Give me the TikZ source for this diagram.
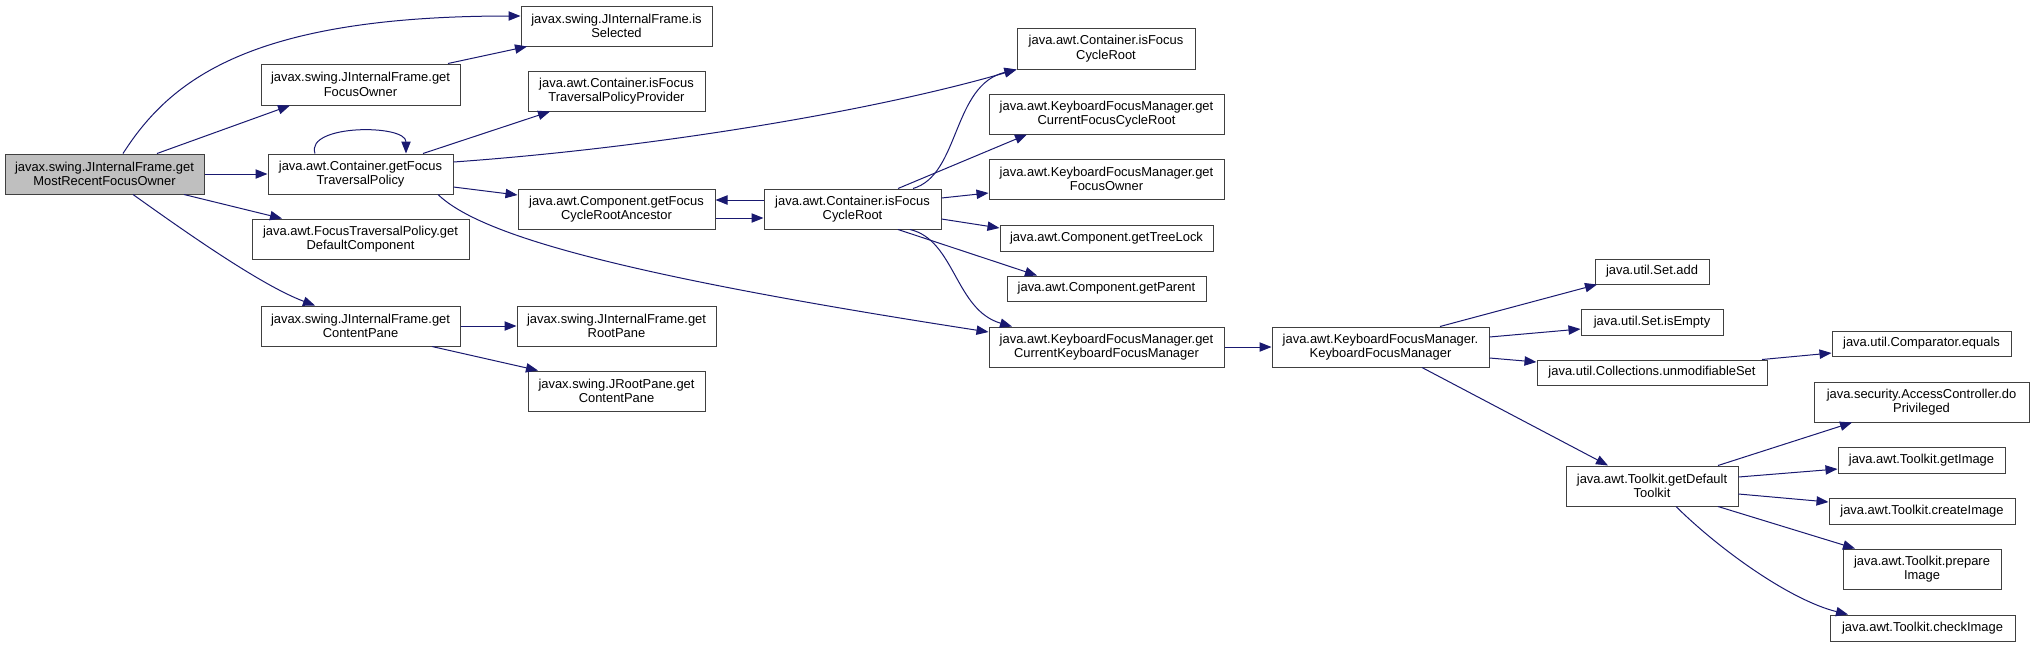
\documentclass[tikz,border=0pt]{standalone}
\usepackage{fontspec}
\setmainfont{Liberation Sans}
\usetikzlibrary{arrows.meta}
\definecolor{edgeblue}{HTML}{191970}
\definecolor{boxline}{HTML}{404040}
\definecolor{mainfill}{HTML}{BFBFBF}
\tikzset{
  box/.style={draw=boxline, line width=0.75pt, fill=white, inner sep=0pt,
    align=center, font=\fontsize{9.7}{11}\selectfont, text=black},
  edge/.style={draw=edgeblue, line width=0.75pt, -{Triangle[length=9pt,width=7pt]}}
}
\newcommand\bx[7][]{\node[box,#1,minimum width={(#5-#3)*0.75pt},minimum height={(#6-#4)*0.75pt}] (#2) at ({(#3+#5)/2},{(#4+#6)/2}) {#7};}
\begin{document}
\begin{tikzpicture}[x=0.75pt,y=-0.75pt]
\fill[white] (0,0) rectangle (2035,647);
\useasboundingbox (0,0) rectangle (2035,647);
% nodes
\bx[fill=mainfill]{M}{5}{154}{204}{194}{javax.swing.JInternalFrame.get\\MostRecentFocusOwner}
\bx{FO}{261}{64}{460}{105}{javax.swing.JInternalFrame.get\\FocusOwner}
\bx{FTP}{268}{154}{453}{194}{java.awt.Container.getFocus\\TraversalPolicy}
\bx{DC}{252}{219}{469}{259}{java.awt.FocusTraversalPolicy.get\\DefaultComponent}
\bx{CP}{261}{306}{460}{346}{javax.swing.JInternalFrame.get\\ContentPane}
\bx{SEL}{521}{6}{712}{46}{javax.swing.JInternalFrame.is\\Selected}
\bx{TPP}{528}{71}{705}{111}{java.awt.Container.isFocus\\TraversalPolicyProvider}
\bx{CRA}{518}{189}{715}{229}{java.awt.Component.getFocus\\CycleRootAncestor}
\bx{CFRB}{764}{189}{941}{229}{java.awt.Container.isFocus\\CycleRoot}
\bx{RP}{517}{306}{716}{346}{javax.swing.JInternalFrame.get\\RootPane}
\bx{JRP}{528}{371}{705}{411}{javax.swing.JRootPane.get\\ContentPane}
\bx{CFRA}{1017}{28}{1195}{69}{java.awt.Container.isFocus\\CycleRoot}
\bx{GCFR}{989}{94}{1224}{134}{java.awt.KeyboardFocusManager.get\\CurrentFocusCycleRoot}
\bx{KFO}{989}{159}{1224}{199}{java.awt.KeyboardFocusManager.get\\FocusOwner}
\bx{TL}{1000}{225}{1213}{251}{java.awt.Component.getTreeLock}
\bx{PAR}{1007}{276}{1206}{301}{java.awt.Component.getParent}
\bx{GCK}{989}{327}{1224}{367}{java.awt.KeyboardFocusManager.get\\CurrentKeyboardFocusManager}
\bx{KFM}{1272}{327}{1489}{367}{java.awt.KeyboardFocusManager.\\KeyboardFocusManager}
\bx{SADD}{1595}{259}{1709}{284}{java.util.Set.add}
\bx{SEMP}{1581}{309}{1723}{335}{java.util.Set.isEmpty}
\bx{UNM}{1537}{360}{1767}{385}{java.util.Collections.unmodifiableSet}
\bx{CMP}{1832}{331}{2011}{356}{java.util.Comparator.equals}
\bx{ACC}{1814}{382}{2029}{422}{java.security.AccessController.do\\Privileged}
\bx{GDT}{1566}{466}{1738}{506}{java.awt.Toolkit.getDefault\\Toolkit}
\bx{GI}{1838}{447}{2005}{473}{java.awt.Toolkit.getImage}
\bx{CI}{1829}{498}{2015}{524}{java.awt.Toolkit.createImage}
\bx{PI}{1843}{549}{2001}{589}{java.awt.Toolkit.prepare\\Image}
\bx{CHK}{1830}{615}{2015}{641}{java.awt.Toolkit.checkImage}
% edges
\draw[edge] (M.north -| 123,0) .. controls (170,80) and (250,16) .. (SEL.west |- 0,16);
\draw[edge] (M.north -| 157,0) -- (FO.south -| 290,0);
\draw[edge] (M.east |- 0,174) -- (FTP.west |- 0,174);
\draw[edge] (M.south -| 184,0) -- (DC.north -| 282,0);
\draw[edge] (M.south -| 133,0) .. controls (180,228) and (260,285) .. (CP.north -| 315,0);
\draw[edge] (FO.north -| 448,0) -- (SEL.south -| 527,0);
\draw[edge] (FTP.north -| 315,0) .. controls (305,124) and (406,124) .. (FTP.north -| 406,0);
\draw[edge] (FTP.north -| 423,0) -- (TPP.south -| 550,0);
\draw[edge] (FTP.east |- 0,162) .. controls (650,148) and (870,112) .. (CFRA.south west);
\draw[edge] (FTP.east |- 0,187) -- (CRA.west |- 0,195);
\draw[edge] (FTP.south -| 438,0) .. controls (480,235) and (620,275) .. (GCK.west |- 0,332);
\draw[edge] (CP.east |- 0,326) -- (RP.west |- 0,326);
\draw[edge] (CP.south -| 432,0) -- (JRP.north -| 538,0);
\draw[edge] (CFRB.west |- 0,200) -- (CRA.east |- 0,200);
\draw[edge] (CRA.east |- 0,218) -- (CFRB.west |- 0,218);
\draw[edge] (CFRB.north -| 913,0) .. controls (960,175) and (952,85) .. (CFRA.south west);
\draw[edge] (CFRB.north -| 898,0) -- (GCFR.south -| 1027,0);
\draw[edge] (CFRB.east |- 0,198) -- (KFO.west |- 0,193);
\draw[edge] (CFRB.east |- 0,219) -- (TL.west |- 0,228);
\draw[edge] (CFRB.south -| 898,0) -- (PAR.north -| 1037,0);
\draw[edge] (CFRB.south -| 910,0) .. controls (955,240) and (955,310) .. (GCK.north -| 1012,0);
\draw[edge] (GCK.east |- 0,347) -- (KFM.west |- 0,347);
\draw[edge] (KFM.north -| 1440,0) -- (SADD.south -| 1597,0);
\draw[edge] (KFM.east |- 0,337) -- (SEMP.west |- 0,329);
\draw[edge] (KFM.east |- 0,358) -- (UNM.west |- 0,362);
\draw[edge] (KFM.south -| 1422,0) -- (GDT.north -| 1608,0);
\draw[edge] (UNM.north -| 1762,0) -- (CMP.west |- 0,353);
\draw[edge] (GDT.north -| 1718,0) -- (ACC.south -| 1852,0);
\draw[edge] (GDT.east |- 0,477) -- (GI.west |- 0,469);
\draw[edge] (GDT.east |- 0,494) -- (CI.west |- 0,502);
\draw[edge] (GDT.south -| 1718,0) -- (PI.north -| 1855,0);
\draw[edge] (GDT.south -| 1676,0) .. controls (1720,550) and (1790,600) .. (CHK.north -| 1848,0);
\end{tikzpicture}
\end{document}
